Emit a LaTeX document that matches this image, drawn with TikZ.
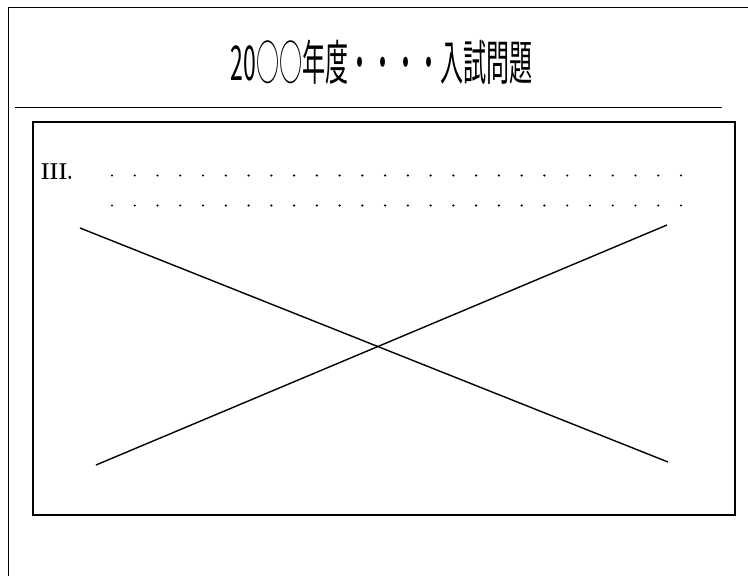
\documentclass[tikz,border=0pt]{standalone}
\usepackage{fontspec}
\newfontfamily\cjk{Noto Sans CJK JP}
\usetikzlibrary{positioning}
\tikzset{
  frameline/.style = {line width=1pt},
  boxline/.style = {line width=1.6pt},
  crossline/.style = {line width=1.4pt},
  dotmark/.style = {fill=black}
}

\begin{document}
\begin{tikzpicture}[x = 1pt, y = -1pt]
\useasboundingbox (0,0) rectangle (748,576);

% page frame
\coordinate (TL) at (8, 7);
\coordinate (TR) at (748, 7);
\coordinate (BL) at (8, 576);
\draw[frameline] (BL) -- (TL) -- (TR);

% title
\node (title) at (382, 62) {\cjk\fontsize{48}{50}\selectfont\scalebox{0.48}[1]{20○○年度・・・・入試問題}};
\coordinate (SL) at (15, 107);
\coordinate (SR) at (722, 107);
\draw[frameline] (SL) -- (SR);

% question box
\coordinate (boxNW) at (33, 122);
\coordinate (boxSE) at (735, 515);
\draw[boxline] (boxNW) rectangle (boxSE);

\node[anchor=west, inner sep=0pt] (num) at (41, 172) {\fontsize{23}{25}\selectfont\bfseries\scalebox{0.85}[1]{III.}};

\foreach \i in {0,...,25} {
  \fill[dotmark] (112 + 22.76*\i, 175.5) circle (1.2);
  \fill[dotmark] (112 + 22.76*\i, 205.5) circle (1.2);
}

% cross
\coordinate (A) at (80, 228);
\coordinate (B) at (668, 462);
\coordinate (C) at (96, 465);
\coordinate (D) at (667, 225);
\draw[crossline] (A) -- (B);
\draw[crossline] (C) -- (D);

\end{tikzpicture}
\end{document}
